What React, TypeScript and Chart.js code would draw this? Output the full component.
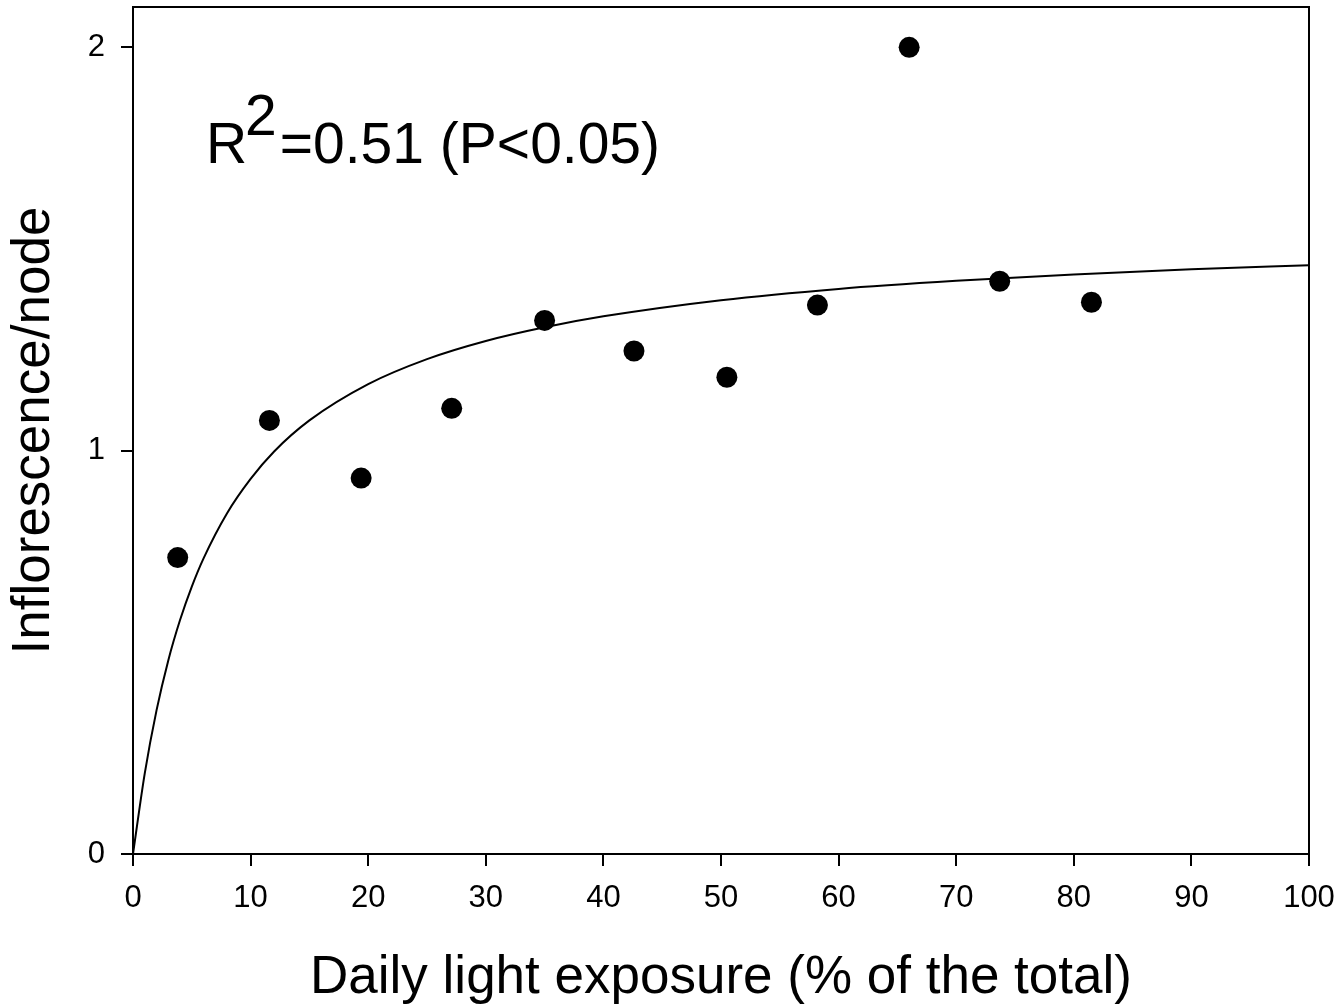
import React, { useEffect, useRef } from "react";
import { Chart, registerables } from "chart.js";

Chart.register(...registerables);

// Observed data points
const lightX = [3.8, 11.6, 19.4, 27.1, 35.0, 42.6, 50.5, 58.2, 66.0, 73.7, 81.5];
const inflY = [0.735, 1.075, 0.932, 1.105, 1.323, 1.247, 1.182, 1.361, 2.0, 1.42, 1.368];

// Fitted curve
const curveX = [0, 1, 2, 3, 4, 5, 6, 8, 10, 12, 15, 20, 25, 30, 35, 40, 50, 60, 70, 80, 90, 100];
const curveY = [0, 0.2, 0.356, 0.48, 0.58, 0.663, 0.733, 0.845, 0.93, 0.998, 1.075, 1.165, 1.227, 1.272, 1.306, 1.333, 1.373, 1.401, 1.421, 1.437, 1.45, 1.46];

const xTicks = [0, 10, 20, 30, 40, 50, 60, 70, 80, 90, 100];
const yTicks = [0, 1, 2];

const xTitle = "Daily light exposure (% of the total)";
const yTitle = "Inflorescence/node";
const annMain = "R";
const annSup = "2";
const annRest = "=0.51 (P<0.05)";

const FONT = 'Arial, "Liberation Sans", sans-serif';

export default function App() {
  const ref = useRef<HTMLCanvasElement | null>(null);
  useEffect(() => {
    const canvas = ref.current;
    if (!canvas) return;

    const framePlugin = {
      id: "frame",
      afterDraw(chart: any) {
        const { ctx, chartArea } = chart;
        ctx.save();
        ctx.strokeStyle = "#000";
        ctx.lineWidth = 2;
        ctx.beginPath();
        ctx.moveTo(chartArea.left, chartArea.top);
        ctx.lineTo(chartArea.right, chartArea.top);
        ctx.lineTo(chartArea.right, chartArea.bottom);
        ctx.stroke();
        ctx.restore();
      },
    };

    const annPlugin = {
      id: "ann",
      afterDraw(chart: any) {
        const { ctx } = chart;
        const x0 = chart.scales.x.getPixelForValue(6.2);
        const yb = chart.scales.y.getPixelForValue(1.7125);
        ctx.save();
        ctx.fillStyle = "#000";
        ctx.textBaseline = "alphabetic";
        ctx.textAlign = "left";
        ctx.font = `57px ${FONT}`;
        ctx.fillText(annMain, x0, yb);
        let x = x0 + ctx.measureText(annMain).width - 2;
        ctx.fillText(annSup, x, yb - 28);
        x += ctx.measureText(annSup).width + 3;
        ctx.fillText(annRest, x, yb);
        ctx.restore();
      },
    };

    const chart = new Chart(canvas, {
      type: "scatter",
      data: {
        datasets: [
          {
            data: curveX.map((x, i) => ({ x, y: curveY[i] })),
            showLine: true,
            borderColor: "#000",
            borderWidth: 2,
            pointRadius: 0,
            cubicInterpolationMode: "monotone",
            fill: false,
          } as any,
          {
            data: lightX.map((x, i) => ({ x, y: inflY[i] })),
            pointRadius: 10.5,
            backgroundColor: "#000",
            borderColor: "#000",
            borderWidth: 0,
            showLine: false,
          },
        ],
      },
      options: {
        responsive: false,
        animation: false,
        events: [],
        layout: { autoPadding: false, padding: { top: 7, right: 33, left: 0, bottom: 0 } },
        plugins: {
          legend: { display: false },
          tooltip: { enabled: false },
        },
        scales: {
          x: {
            type: "linear",
            min: 0,
            max: 100,
            afterBuildTicks: (s: any) => {
              s.ticks = xTicks.map((v) => ({ value: v }));
            },
            afterFit: (s: any) => {
              s.height = 153;
              s.paddingLeft = 0;
              s.paddingRight = 0;
              s.paddingTop = 0;
              s.paddingBottom = 0;
            },
            border: { color: "#000", width: 2 },
            grid: {
              drawOnChartArea: false,
              drawTicks: true,
              tickLength: 12,
              color: "#000",
              lineWidth: 2,
            },
            ticks: {
              color: "#000",
              font: { family: FONT, size: 31 },
              padding: 14,
              maxRotation: 0,
              autoSkip: false,
            },
            title: {
              display: true,
              text: xTitle,
              color: "#000",
              font: { family: FONT, size: 53, lineHeight: 1 },
              padding: { top: 0, bottom: 2 },
            },
          },
          y: {
            type: "linear",
            min: 0,
            max: 2.1,
            afterBuildTicks: (s: any) => {
              s.ticks = yTicks.map((v) => ({ value: v }));
            },
            afterFit: (s: any) => {
              s.width = 133;
              s.paddingTop = 0;
              s.paddingBottom = 0;
              s.paddingLeft = 0;
              s.paddingRight = 0;
            },
            border: { color: "#000", width: 2 },
            grid: {
              drawOnChartArea: false,
              drawTicks: true,
              tickLength: 12,
              color: "#000",
              lineWidth: 2,
            },
            ticks: {
              color: "#000",
              font: { family: FONT, size: 31 },
              padding: 16,
              autoSkip: false,
            },
            title: {
              display: true,
              text: yTitle,
              color: "#000",
              font: { family: FONT, size: 53, lineHeight: 1 },
              padding: { top: 8, bottom: 0 },
            },
          },
        },
      } as any,
      plugins: [framePlugin, annPlugin],
    });
    return () => chart.destroy();
  }, []);

  return (
    <div style={{ position: "fixed", left: 0, top: 0, width: 1342, height: 1007, background: "#fff" }}>
      <canvas ref={ref} width={1342} height={1007} style={{ display: "block" }} />
    </div>
  );
}
